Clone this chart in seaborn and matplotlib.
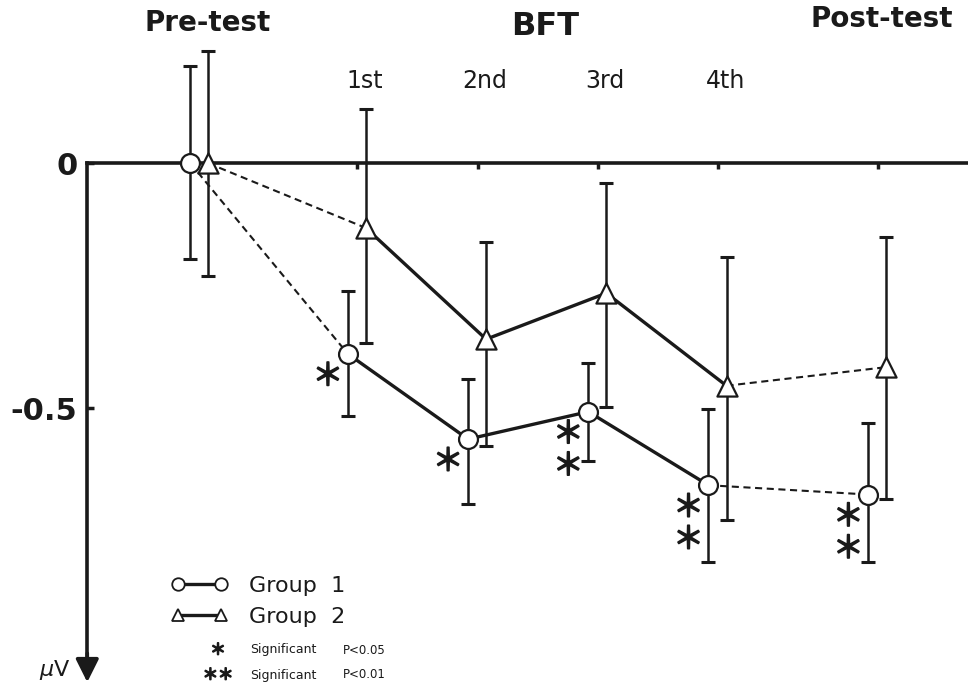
import matplotlib
matplotlib.use('Agg')
import matplotlib.pyplot as plt
import matplotlib.patheffects as pe
from matplotlib.lines import Line2D
import numpy as np
import pandas as pd
import seaborn as sns

# Podaci ocitani sa slike (uV)
sessions = ['Pre-test', '1st', '2nd', '3rd', '4th', 'Post-test']

g1_mean = [0.0, -0.389, -0.563, -0.507, -0.657, -0.676]
g1_upper = [0.199, -0.261, -0.440, -0.408, -0.502, -0.531]
g1_lower = [-0.196, -0.516, -0.696, -0.607, -0.814, -0.813]
g1_sig = [0, 1, 1, 2, 2, 2]   # broj zvezdica

g2_mean = [0.0, -0.132, -0.359, -0.265, -0.454, -0.416]
g2_upper = [0.229, 0.111, -0.160, -0.040, -0.191, -0.151]
g2_lower = [-0.230, -0.367, -0.576, -0.497, -0.727, -0.686]

# raspored po x osi
session_x = np.array([-0.31, 1, 2, 3, 4, 5.33])
dodge = {'Group 1': -0.08, 'Group 2': 0.07}

sns.set_theme(style='white')
plt.rcParams['font.family'] = ['DejaVu Sans', 'Noto Sans CJK JP']
plt.rcParams['text.color'] = 'k'
plt.rcParams['axes.labelcolor'] = 'k'
cjk = ['Noto Sans CJK JP', 'DejaVu Sans']
thick = [pe.withStroke(linewidth=1.2, foreground='k')]

df = pd.DataFrame({
    'session': sessions * 2,
    'group': ['Group 1'] * 6 + ['Group 2'] * 6,
    'mean': g1_mean + g2_mean,
    'upper': g1_upper + g2_upper,
    'lower': g1_lower + g2_lower,
})
df['x'] = np.tile(session_x, 2) + df['group'].map(dodge)

fig = plt.figure(figsize=(9.68, 6.84), dpi=100)
ax = fig.add_axes([0, 0, 1, 1])

markers = {'Group 1': 'o', 'Group 2': '^'}
for grp, sub in df.groupby('group'):
    sub = sub.reset_index(drop=True)
    yerr = [sub['mean'] - sub['lower'], sub['upper'] - sub['mean']]
    ax.errorbar(sub['x'], sub['mean'], yerr=yerr, fmt='none', ecolor='k',
                elinewidth=1.8, capsize=4.8, capthick=2.2, zorder=2)
    # puna linija tokom BFT, isprekidana do pre/post testa
    sns.lineplot(data=sub.iloc[1:5], x='x', y='mean', color='k', lw=2.4,
                 ax=ax, zorder=3)
    for seg in (sub.iloc[0:2], sub.iloc[4:6]):
        sns.lineplot(data=seg, x='x', y='mean', color='k', lw=1.5,
                     linestyle=(0, (3.4, 2.2)), ax=ax, zorder=3)
    sns.scatterplot(data=sub, x='x', y='mean', marker=markers[grp],
                    s=185 if grp == 'Group 1' else 210, facecolor='white',
                    edgecolor='k', linewidth=1.6, zorder=4, ax=ax)

# zvezdice za znacajnost
g1 = df[df['group'] == 'Group 1'].reset_index(drop=True)
for i, n in enumerate(g1_sig):
    for k in range(n):
        ax.annotate('＊', xy=(g1['x'][i], g1['mean'][i]),
                    xytext=(-14.4, -16.5 - 23 * k), textcoords='offset points',
                    ha='center', va='center', fontsize=22, family=cjk,
                    color='k', path_effects=thick)

# ose
xlim = (-1.974, 6.079)
ylim = (-1.0627, 0.3333)
left_x = -1.248
ax.set_xlim(xlim)
ax.set_ylim(ylim)
ax.set_xlabel('')
ax.set_ylabel('')
ax.grid(False)
for s in ['top', 'right']:
    ax.spines[s].set_visible(False)
ax.spines['bottom'].set_position(('data', 0))
ax.spines['bottom'].set_bounds(left_x, xlim[1])
ax.spines['left'].set_position(('data', left_x))
ax.spines['left'].set_bounds(-1.02, 0)
for s in ['bottom', 'left']:
    ax.spines[s].set_color('k')
    ax.spines[s].set_linewidth(2.6)
ax.annotate('', xy=(left_x, -1.059), xytext=(left_x, -1.0),
            arrowprops=dict(arrowstyle='-|>,head_length=0.7,head_width=0.35',
                            lw=2.6, color='k', mutation_scale=20,
                            shrinkA=0, shrinkB=0))

ax.set_xticks(session_x[1:])
ax.tick_params(axis='x', bottom=True, direction='out', length=4, width=2.5,
               color='k', labelbottom=False)
ax.set_yticks([0, -0.5])
ax.set_yticklabels(['0', '-0.5'])
ax.tick_params(axis='y', left=True, direction='in', length=5, width=2.5,
               color='k', pad=7, labelsize=22, labelcolor='k')
for lbl in ax.get_yticklabels():
    lbl.set_fontweight('bold')

# naslovi iznad
for i in range(1, 5):
    ax.text(session_x[i] + 0.06, 0.168, sessions[i], ha='center', va='center',
            fontsize=17, color='k')
ax.text(session_x[0] + 0.06, 0.286, sessions[0], ha='center', va='center',
        fontsize=20, fontweight='bold', color='k')
ax.text(session_x[5] + 0.03, 0.294, sessions[5], ha='center', va='center',
        fontsize=20, fontweight='bold', color='k')
ax.text(session_x[1:5].mean() + 0.06, 0.280, 'BFT', ha='center', va='center',
        fontsize=23, fontweight='bold', color='k')

fig.text(55 / 968, 1 - 670 / 684, r'$\mu$V', ha='center', va='center',
         fontsize=16, color='k')

# legenda
handles = [
    Line2D([], [], color='k', lw=2.4, marker='o', ms=9, mfc='white', mec='k', mew=1.3),
    Line2D([], [], color='k', lw=2.4, marker='^', ms=9, mfc='white', mec='k', mew=1.3),
]
leg = ax.legend(handles, ['Group  1', 'Group  2'], numpoints=2, frameon=False,
                loc='upper left', bbox_to_anchor=(171 / 968, 1 - 576 / 684),
                bbox_transform=fig.transFigure, borderpad=0, borderaxespad=0,
                handlelength=2.57, handletextpad=0.94, labelspacing=0.5,
                fontsize=16)
for t in leg.get_texts():
    t.set_color('k')

for row, (stars, p) in enumerate([('＊', 'P<0.05'), ('＊＊', 'P<0.01')]):
    yy = 1 - (650 + 25 * row) / 684
    fig.text(218 / 968, yy, stars, ha='center', va='center', fontsize=11,
             family=cjk, color='k', path_effects=thick)
    fig.text(250 / 968, yy, 'Significant', ha='left', va='center', fontsize=9,
             color='k')
    fig.text(343 / 968, yy, p, ha='left', va='center', fontsize=8.5, color='k')

fig.savefig('out.png', dpi=100)
